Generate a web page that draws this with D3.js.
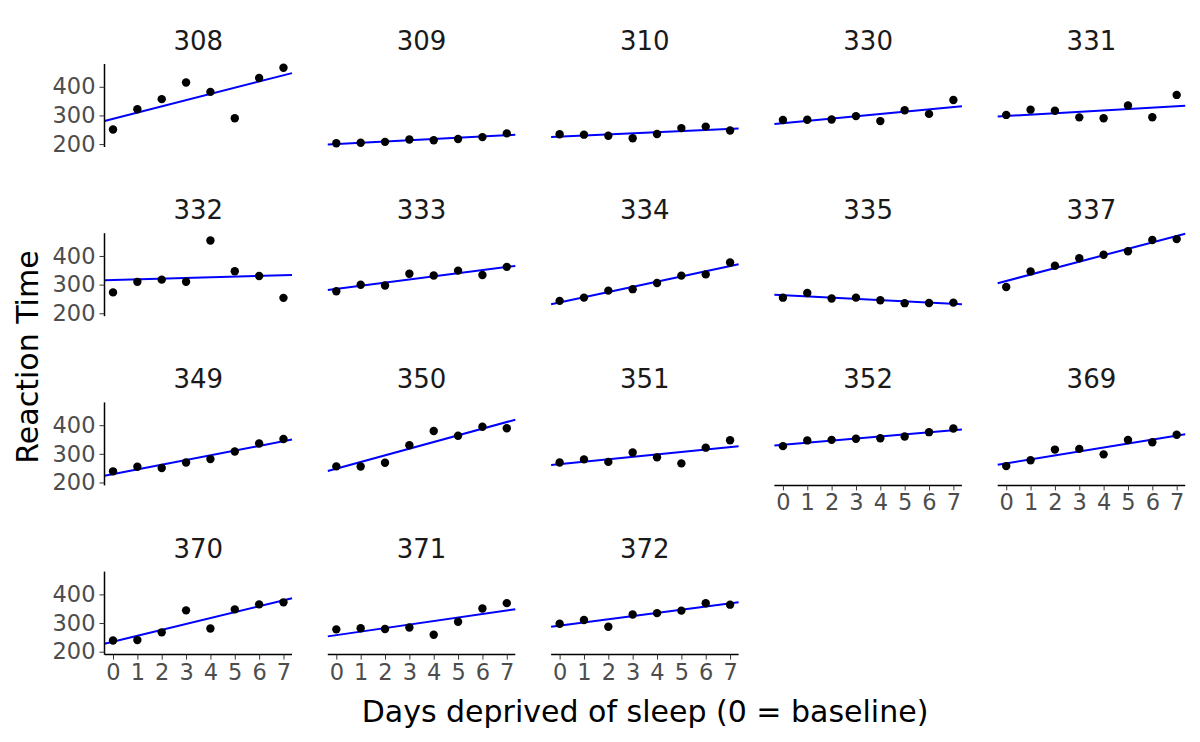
<!DOCTYPE html>
<html><head><meta charset="utf-8">
<script src="https://cdn.jsdelivr.net/npm/d3@7"></script>
<style>body{margin:0;background:#fff}text{font-family:"DejaVu Sans",sans-serif}</style>
</head><body><svg id="c" width="1200" height="742"></svg>
<script>
const subjects=["308","309","310","330","331","332","333","334","335","337","349","350","351","352","369","370","371","372"];
const days=[0,1,2,3,4,5,6,7];
const reaction=[
[250.8006,321.4398,356.8519,414.6901,382.2038,290.1486,430.5853,466.3535],
[202.9778,204.7070,207.7161,215.9618,213.6303,217.7272,224.2957,237.3142],
[234.3200,232.8416,229.3074,220.4579,235.4208,255.7511,261.0125,247.5153],
[283.8565,285.1330,285.7973,297.5855,280.2396,318.2613,305.3495,354.0487],
[301.8206,320.1153,316.2773,293.3187,290.0750,334.8177,293.7469,371.5811],
[272.9613,309.7688,317.4629,309.9976,454.1619,346.8311,330.3003,253.8644],
[276.7693,299.8097,297.1710,338.1665,332.0265,348.8399,333.3600,362.0428],
[243.3647,254.6723,279.0244,284.1912,305.5248,331.5229,335.7469,377.2990],
[254.4907,270.8021,251.4519,254.6362,245.4523,235.3110,235.7541,237.2466],
[291.6112,346.1222,365.7324,391.8385,404.2601,416.6923,455.8643,458.9167],
[238.9256,254.9220,250.7103,269.7744,281.5648,308.1020,336.2806,351.6451],
[256.2046,255.5271,268.9165,329.7247,379.4445,362.9184,394.4872,389.0527],
[269.8939,280.5891,271.8274,304.6336,287.7466,266.5955,321.5418,347.5655],
[326.8785,346.8555,348.7402,352.8287,354.4266,360.4326,375.6406,388.5417],
[257.2424,277.6566,314.8222,317.2135,298.1353,348.1229,340.2800,366.5131],
[238.9008,240.4730,267.5373,344.1937,281.1481,347.5855,365.1630,372.2288],
[277.8989,281.7895,279.1705,284.5120,259.2658,304.6306,350.7807,369.4692],
[297.5968,310.6316,287.1726,329.6076,334.4818,343.2199,369.1417,364.1236]];
const yTicks=[200,300,400];
const svg=d3.select("#c");
const ncol=5,pw=187.5,ph=83,x0=104.5,y0=64,dx=223.3,dy=169.2;
const all=reaction.flat();
const ymin=d3.min(all),ymax=d3.max(all),yr=ymax-ymin;
const x=d3.scaleLinear().domain([-0.35,7.35]).range([0,pw]);
const y=d3.scaleLinear().domain([ymin-0.05*yr,ymax+0.05*yr]).range([ph,0]);
subjects.forEach((s,i)=>{
  const c=i%ncol,r=Math.floor(i/ncol);
  const g=svg.append("g").attr("transform",`translate(${x0+c*dx},${y0+r*dy})`);
  g.append("text").attr("x",pw/2).attr("y",-14).attr("text-anchor","middle").attr("font-size",26).attr("fill","#1a1a1a").text(s);
  const ys=reaction[i],mx=d3.mean(days),my=d3.mean(ys);
  const b=d3.sum(days,(d,k)=>(d-mx)*(ys[k]-my))/d3.sum(days,d=>(d-mx)**2),a=my-b*mx;
  g.append("line").attr("x1",x(-0.35)).attr("x2",x(7.35)).attr("y1",y(a+b*-0.35)).attr("y2",y(a+b*7.35)).attr("stroke","#0000ff").attr("stroke-width",2);
  g.selectAll("circle").data(days).join("circle").attr("cx",d=>x(d)).attr("cy",(d,k)=>y(ys[k])).attr("r",4.2).attr("fill","#000");
  if(c===0){
    const ax=g.append("g").call(d3.axisLeft(y).tickValues(yTicks).tickSize(5).tickPadding(4));
    ax.select(".domain").attr("d",`M0,0V${ph}`).attr("stroke","#000").attr("stroke-width",1.5);
    ax.selectAll(".tick line").attr("stroke","#333");
    ax.selectAll("text").attr("font-size",22.5).attr("fill","#4d4d4d").style("font-family","DejaVu Sans");
  }
  if(i+ncol>=subjects.length){
    const ax=g.append("g").attr("transform",`translate(0,${ph})`).call(d3.axisBottom(x).tickValues(days).tickSize(5).tickPadding(4));
    ax.select(".domain").attr("d",`M0,0H${pw}`).attr("stroke","#000").attr("stroke-width",1.5);
    ax.selectAll(".tick line").attr("stroke","#333");
    ax.selectAll("text").attr("font-size",22.5).attr("fill","#4d4d4d").style("font-family","DejaVu Sans");
  }
});
svg.append("text").attr("x",645).attr("y",722).attr("text-anchor","middle").attr("font-size",30).attr("fill","#000").text("Days deprived of sleep (0 = baseline)");
svg.append("text").attr("transform","translate(38,357) rotate(-90)").attr("text-anchor","middle").attr("font-size",30).attr("fill","#000").text("Reaction Time");
</script></body></html>
